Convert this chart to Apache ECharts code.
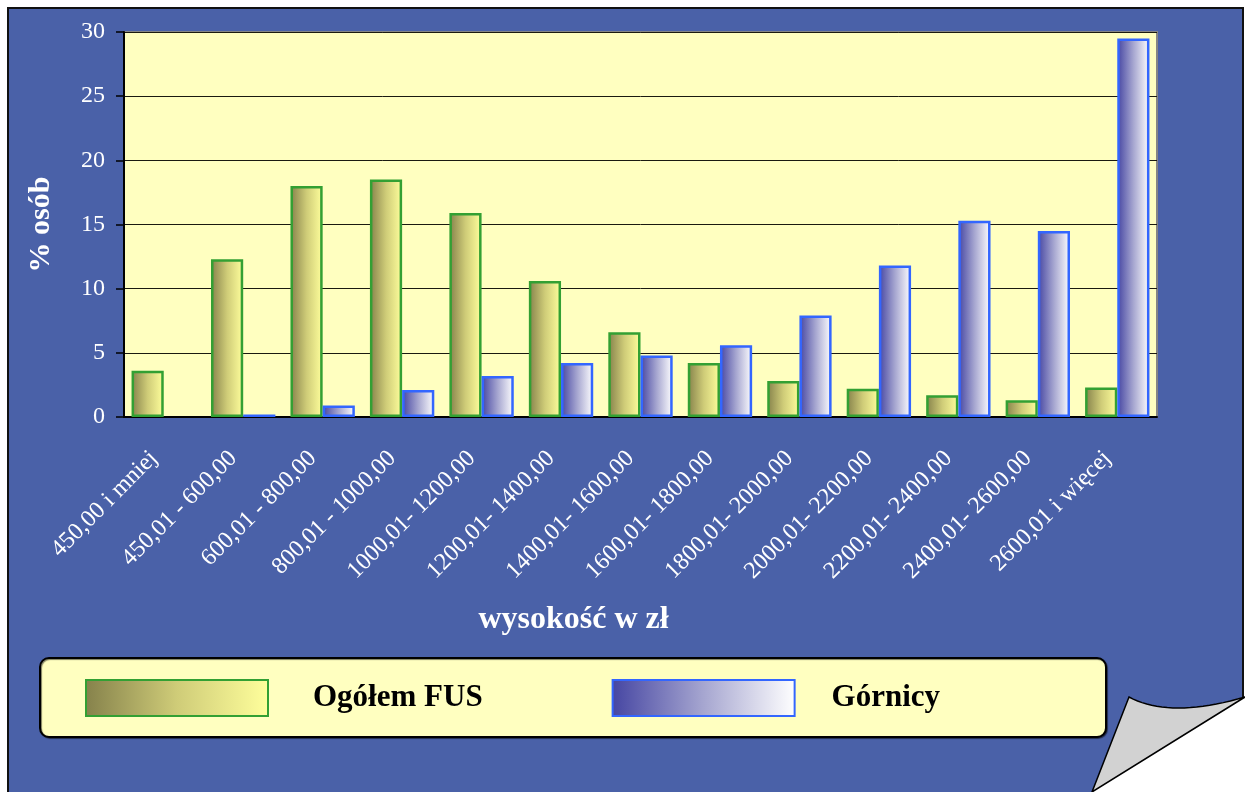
<!DOCTYPE html>
<html>
<head>
<meta charset="utf-8">
<script src="https://cdn.jsdelivr.net/npm/echarts@6/dist/echarts.min.js"></script>
<style>
  html, body { margin: 0; padding: 0; background: #fff; }
  #main { width: 1245px; height: 792px; }
</style>
</head>
<body>
<div id="main"></div>
<script>
// data
var categories = [
  '450,00 i mniej', '450,01 - 600,00', '600,01 - 800,00', '800,01 - 1000,00',
  '1000,01- 1200,00', '1200,01- 1400,00', '1400,01- 1600,00', '1600,01- 1800,00',
  '1800,01- 2000,00', '2000,01- 2200,00', '2200,01- 2400,00', '2400,01- 2600,00',
  '2600,01 i więcej'
];
var ogolemFus = [3.6, 12.3, 18.0, 18.5, 15.9, 10.6, 6.6, 4.2, 2.8, 2.2, 1.7, 1.3, 2.3];
var gornicy = [0, 0.2, 0.9, 2.1, 3.2, 4.2, 4.8, 5.6, 7.9, 11.8, 15.3, 14.5, 29.5];
var yTicks = [0, 5, 10, 15, 20, 25, 30];

const chart = echarts.init(document.getElementById('main'));

var serif = '"Liberation Serif", "DejaVu Serif", serif';

var greenFill = new echarts.graphic.LinearGradient(0, 0, 1, 0, [
  { offset: 0, color: '#85814b' },
  { offset: 0.5, color: '#cfcc78' },
  { offset: 1, color: '#ffff9c' }
]);
var blueFill = new echarts.graphic.LinearGradient(0, 0, 1, 0, [
  { offset: 0, color: '#4545a2' },
  { offset: 0.5, color: '#a6a6d0' },
  { offset: 1, color: '#ffffff' }
]);

// zero values get no outline, so nothing shows on the axis
function barData(values) {
  return values.map(function (v) {
    return v === 0 ? { value: v, itemStyle: { borderWidth: 0 } } : v;
  });
}

// page curl outline: curved top edge, then straight fold line
var curlPoints = [];
for (var i = 0; i <= 20; i++) {
  var t = i / 20;
  curlPoints.push([
    (1 - t) * (1 - t) * 1129 + 2 * (1 - t) * t * 1170 + t * t * 1245,
    (1 - t) * (1 - t) * 697 + 2 * (1 - t) * t * 719 + t * t * 697
  ]);
}
curlPoints.push([1092, 792]);

var option = {
  animation: false,
  graphic: [
    // blue page with frame
    {
      type: 'rect', z: -100, silent: true,
      shape: { x: 8, y: 8, width: 1235, height: 800 },
      style: { fill: '#4a61a8', stroke: '#111', lineWidth: 2 }
    },
    // legend box
    {
      type: 'rect', z: -50, silent: true,
      shape: { x: 40, y: 658, width: 1066, height: 79, r: 9 },
      style: { fill: '#ffffc0', stroke: '#000', lineWidth: 2,
        shadowColor: 'rgba(0,0,0,0.5)', shadowOffsetX: 1, shadowOffsetY: 1, shadowBlur: 1 }
    },
    // page curl
    {
      type: 'polygon', z: 100, silent: true,
      shape: { points: [[1245, 697], [1250, 697], [1250, 800], [1092, 800], [1092, 792]] },
      style: { fill: '#ffffff' }
    },
    {
      type: 'polygon', z: 101, silent: true,
      shape: { points: curlPoints },
      style: { fill: '#d2d2d2', stroke: '#000', lineWidth: 1.5 }
    }
  ],
  legend: {
    left: 85,
    top: 679,
    itemWidth: 182,
    itemHeight: 36,
    itemGap: 129,
    padding: 0,
    icon: 'rect',
    data: [
      { name: 'Ogółem FUS' },
      { name: 'Górnicy', textStyle: { padding: [0, 0, 0, 32] } }
    ],
    textStyle: {
      fontFamily: serif,
      fontWeight: 'bold',
      fontSize: 31,
      color: '#000',
      padding: [0, 0, 0, 40]
    }
  },
  grid: {
    left: 124,
    right: 88,
    top: 32,
    bottom: 375,
    show: true,
    backgroundColor: '#ffffc0',
    borderColor: '#858585',
    borderWidth: 2
  },
  xAxis: {
    type: 'category',
    data: categories,
    name: 'wysokość w zł',
    nameLocation: 'middle',
    nameGap: 187,
    nameTextStyle: {
      fontFamily: serif,
      fontWeight: 'bold',
      fontSize: 32,
      color: '#fff',
      padding: [0, 134, 0, 0]
    },
    axisLine: { lineStyle: { color: '#000', width: 2 } },
    axisTick: { show: false },
    axisLabel: {
      rotate: 45,
      margin: 28,
      interval: 0,
      fontFamily: serif,
      fontSize: 24,
      color: '#fff',
      padding: [0, 14, 0, 0]
    }
  },
  yAxis: {
    type: 'value',
    min: yTicks[0],
    max: yTicks[yTicks.length - 1],
    interval: 5,
    name: '% osób',
    nameLocation: 'middle',
    nameGap: 68,
    nameTextStyle: {
      fontFamily: serif,
      fontWeight: 'bold',
      fontSize: 30,
      color: '#fff'
    },
    axisLine: { show: true, lineStyle: { color: '#000', width: 2 } },
    axisTick: { show: true, length: 8, lineStyle: { color: '#000', width: 1.5 } },
    axisLabel: {
      margin: 19,
      fontFamily: serif,
      fontSize: 24,
      color: '#fff'
    },
    splitLine: { lineStyle: { color: '#1a1a10', width: 1 } }
  },
  series: [
    {
      name: 'Ogółem FUS',
      type: 'bar',
      data: barData(ogolemFus),
      barGap: '0%',
      barCategoryGap: '19%',
      itemStyle: { color: greenFill, borderColor: '#33a033', borderWidth: 2.5 }
    },
    {
      name: 'Górnicy',
      type: 'bar',
      data: barData(gornicy),
      itemStyle: { color: blueFill, borderColor: '#3366ff', borderWidth: 2.5 }
    }
  ]
};

chart.setOption(option);
</script>
</body>
</html>
